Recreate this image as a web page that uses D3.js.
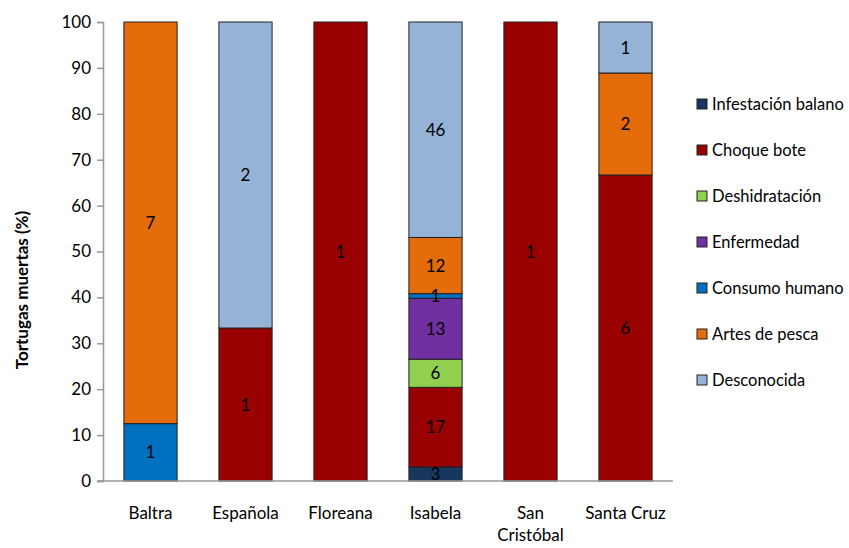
<!DOCTYPE html>
<html>
<head>
<meta charset="utf-8">
<script src="https://cdn.jsdelivr.net/npm/d3@7"></script>
<style>
  body { margin: 0; background: #fff; }
  text { font-family: Lato, "Open Sans", sans-serif; }
</style>
</head>
<body>
<svg id="chart"></svg>
<script>
// islands
var islands = ["Baltra", "Española", "Floreana", "Isabela", "San Cristóbal", "Santa Cruz"];

// causes of death, stacked bottom to top
var causes = ["Infestación balano", "Choque bote", "Deshidratación", "Enfermedad", "Consumo humano", "Artes de pesca", "Desconocida"];
var colors = ["#17375E", "#990000", "#92D050", "#7030A0", "#0070C0", "#E46C0A", "#95B3D7"];

// counts per cause, one value per island
var infestacion = [0, 0, 0, 3, 0, 0];
var choque      = [0, 1, 1, 17, 1, 6];
var deshidrat   = [0, 0, 0, 6, 0, 0];
var enfermedad  = [0, 0, 0, 13, 0, 0];
var consumo     = [1, 0, 0, 1, 0, 0];
var artes       = [7, 0, 0, 12, 0, 2];
var desconocida = [0, 2, 0, 46, 0, 1];

var yTicks = [0, 10, 20, 30, 40, 50, 60, 70, 80, 90, 100];

var series = [infestacion, choque, deshidrat, enfermedad, consumo, artes, desconocida];

var W = 849, H = 548;
var svg = d3.select("svg#chart").attr("width", W).attr("height", H);

var x = d3.scaleBand().domain(islands).range([103, 673]).paddingInner(0.44).paddingOuter(0.22);
var y = d3.scaleLinear().domain([0, 100]).range([481, 22]);

// build stacked percentages
var rows = islands.map(function(isl, i) {
  var total = d3.sum(series, function(s) { return s[i]; });
  var r = { island: isl };
  causes.forEach(function(c, k) { r[c] = series[k][i] / total * 100; r["n_" + c] = series[k][i]; });
  return r;
});

var stack = d3.stack().keys(causes)(rows);

var g = svg.append("g");
stack.forEach(function(layer, k) {
  layer.forEach(function(d) {
    var cnt = d.data["n_" + causes[k]];
    if (cnt === 0) return;
    g.append("rect")
      .attr("x", x(d.data.island))
      .attr("y", y(d[1]))
      .attr("width", x.bandwidth())
      .attr("height", y(d[0]) - y(d[1]))
      .attr("fill", colors[k])
      .attr("stroke", "#222")
      .attr("stroke-width", 1);
  });
});

// count labels
stack.forEach(function(layer, k) {
  layer.forEach(function(d) {
    var cnt = d.data["n_" + causes[k]];
    if (cnt === 0) return;
    g.append("text")
      .text(cnt)
      .attr("x", x(d.data.island) + x.bandwidth() / 2)
      .attr("y", (y(d[0]) + y(d[1])) / 2)
      .attr("dy", "0.36em")
      .attr("text-anchor", "middle")
      .attr("fill", "#000")
      .style("font-size", "17px");
  });
});

// y axis
var yAxis = svg.append("g")
  .attr("transform", "translate(103,0)")
  .call(d3.axisLeft(y).tickValues(yTicks).tickSize(6).tickPadding(6));
yAxis.select(".domain").attr("stroke", "#999").attr("stroke-width", 1.5);
yAxis.selectAll(".tick line").attr("stroke", "#999").attr("stroke-width", 1.5);
yAxis.selectAll(".tick text").attr("fill", "#000").style("font-size", "17px")
  .style("font-family", "Lato, 'Open Sans', sans-serif");

// x axis line
svg.append("line")
  .attr("x1", 97).attr("x2", 673)
  .attr("y1", y(0)).attr("y2", y(0))
  .attr("stroke", "#999").attr("stroke-width", 1.5);

// x labels
islands.forEach(function(isl) {
  var cx = x(isl) + x.bandwidth() / 2;
  var t = svg.append("text")
    .attr("x", cx)
    .attr("y", 519)
    .attr("text-anchor", "middle")
    .attr("fill", "#000")
    .style("font-size", "17px");
  if (isl === "San Cristóbal") {
    t.append("tspan").attr("x", cx).text("San");
    t.append("tspan").attr("x", cx).attr("dy", 22).text("Cristóbal");
  } else {
    t.text(isl);
  }
});

// y title
svg.append("text")
  .attr("transform", "translate(28,290) rotate(-90)")
  .attr("text-anchor", "middle")
  .attr("fill", "#000")
  .style("font-size", "17px")
  .style("font-weight", "bold")
  .text("Tortugas muertas (%)");

// legend
var legend = svg.append("g");
causes.forEach(function(c, k) {
  var ly = 104 + k * 46;
  legend.append("rect")
    .attr("x", 697).attr("y", ly - 5)
    .attr("width", 10).attr("height", 10)
    .attr("fill", colors[k])
    .attr("stroke", "#222").attr("stroke-width", 1);
  legend.append("text")
    .attr("x", 712).attr("y", ly)
    .attr("dy", "0.36em")
    .attr("fill", "#000")
    .style("font-size", "16.5px")
    .text(c);
});
</script>
</body>
</html>
